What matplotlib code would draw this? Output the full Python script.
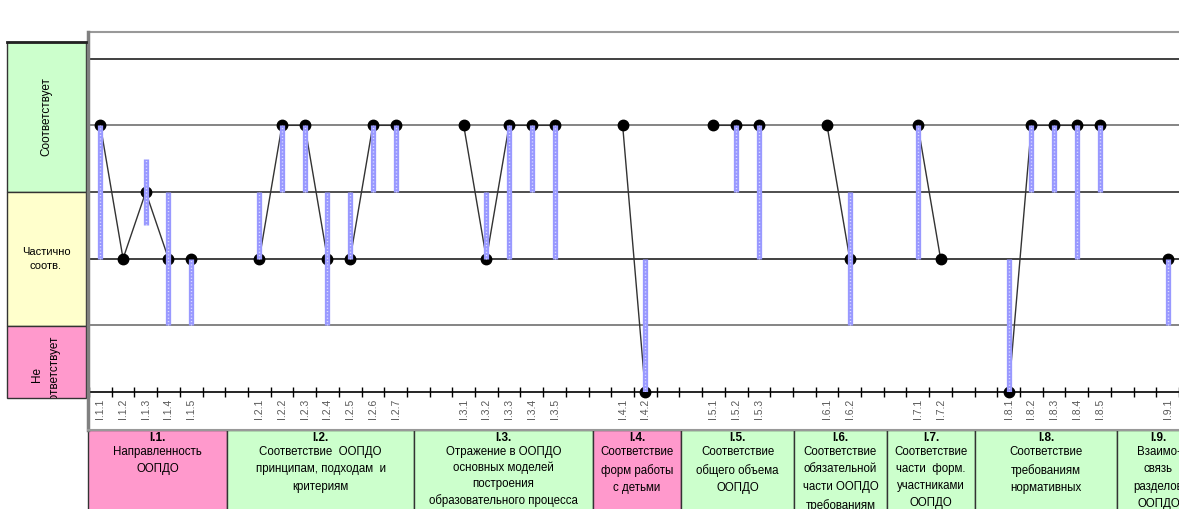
import matplotlib
matplotlib.use("Agg")
import matplotlib.pyplot as plt
from matplotlib.patches import Rectangle
from matplotlib.lines import Line2D
import numpy as np

plt.rcParams['font.family'] = ['Liberation Sans', 'DejaVu Sans']

# ---- data ----
groups = ['I.1', 'I.2', 'I.3', 'I.4', 'I.5', 'I.6', 'I.7', 'I.8', 'I.9']
group_text = [
    'Направленность\nООПДО',
    'Соответствие  ООПДО\nпринципам, подходам  и\nкритериям',
    'Отражение в ООПДО\nосновных моделей\nпостроения\nобразовательного процесса',
    'Соответствие\nформ работы\nс детьми',
    'Соответствие\nобщего объема\nООПДО',
    'Соответствие\nобязательной\nчасти ООПДО\nтребованиям',
    'Соответствие\nчасти  форм.\nучастниками\nООПДО',
    'Соответствие\nтребованиям\nнормативных',
    'Взаимо-\nсвязь\nразделов\nООПДО',
]
group_color = ['#ff99cc', '#ccffcc', '#ccffcc', '#ff99cc', '#ccffcc',
               '#ccffcc', '#ccffcc', '#ccffcc', '#ccffcc']

scores = [[4, 2, 3, 2, 2], [2, 4, 4, 2, 2, 4, 4], [4, 2, 4, 4, 4], [4, 0],
          [4, 4, 4], [4, 2], [4, 2], [0, 4, 4, 4, 4], [2]]
bar_top = [[4, None, 3.5, 3, 2], [3, 4, 4, 3, 3, 4, 4], [None, 3, 4, 4, 4],
           [None, 2], [None, 4, 4], [None, 3], [4, None], [2, 4, 4, 4, 4], [2]]
bar_bottom = [[2, None, 2.5, 1, 1], [2, 3, 3, 1, 2, 3, 3], [None, 2, 2, 3, 2],
              [None, 0], [None, 3, 2], [None, 1], [2, None], [0, 3, 3, 2, 3], [1]]

levels = ['Соответствует', 'Частично\nсоотв.', 'Не\nсоответствует']
level_color = ['#ccffcc', '#ffffcc', '#ff99cc']

# ---- build flat category axis (two empty slots between groups) ----
labels, y, top, bot = [], [], [], []
for gi, g in enumerate(groups):
    if gi > 0:
        labels += ['', '']
        y += [np.nan, np.nan]
        top += [np.nan, np.nan]
        bot += [np.nan, np.nan]
    for k, v in enumerate(scores[gi]):
        labels.append('%s.%d' % (g, k + 1))
        y.append(v)
        top.append(np.nan if bar_top[gi][k] is None else bar_top[gi][k])
        bot.append(np.nan if bar_bottom[gi][k] is None else bar_bottom[gi][k])
x = np.arange(len(labels))
y = np.array(y, dtype=float)
top = np.array(top, dtype=float)
bot = np.array(bot, dtype=float)

W, H = 1179, 509
fig = plt.figure(figsize=(W / 100, H / 100), dpi=100)
ax = fig.add_axes([89 / W, 117 / H, 1090 / W, 360 / H])
ax.set_xlim(-0.5, len(labels) - 0.5)
ax.set_ylim(0, 5.4)

# gridlines
for lv, c in [(1, '#707070'), (2, '#202020'), (3, '#303030'), (4, '#707070'), (5, '#202020')]:
    ax.axhline(lv, color=c, lw=1.2, zorder=1)

# connecting line + markers
ax.plot(x, y, color='#333333', lw=1, zorder=2)
ax.plot(x, y, 'o', color='black', ms=7.5, zorder=3, clip_on=False)

# blue dotted bars
ax.vlines(x, bot, top, color='#9999ff', lw=3.8, zorder=4)
ax.vlines(x, bot, top, color='white', lw=1, linestyles=(0, (0.8, 1.6)), alpha=0.7, zorder=5)

# axes styling
for s in ['right', 'left']:
    ax.spines[s].set_visible(False)
ax.spines['top'].set_color('#999999')
ax.spines['top'].set_linewidth(1.5)
ax.spines['bottom'].set_color('black')
ax.spines['bottom'].set_linewidth(1.2)
ax.set_yticks([])
ax.set_xticks(x)
ax.set_xticklabels(labels, rotation=90, fontsize=7.5, color='#595959')
ax.tick_params(axis='x', which='major', length=0, pad=5)
ax.set_xticks(np.arange(-0.5, len(labels) + 0.5, 1), minor=True)
ax.tick_params(axis='x', which='minor', direction='inout', length=7, width=1, color='black')

def fx(px):
    return px / W

def fy(py):
    return 1 - py / H

# y axis line
fig.add_artist(Line2D([fx(88), fx(88)], [fy(32), fy(430)], color='#808080', lw=2.5))

# left level boxes
box_y = [(42, 192), (192, 326), (326, 398)]
text_y = [117, 259, 374]
for (y0, y1), ty, name, c in zip(box_y, text_y, levels, level_color):
    r = Rectangle((fx(7), fy(y1)), fx(79), (y1 - y0) / H, transform=fig.transFigure,
                  facecolor=c, edgecolor='#333333', lw=1)
    fig.add_artist(r)
    cx, cy = fx(46), fy(ty)
    if name.startswith('Частично'):
        fig.text(cx, cy, name, ha='center', va='center', fontsize=8, linespacing=1.6)
    else:
        t = fig.text(cx, cy, name, ha='center', va='center', fontsize=8.5,
                     rotation=90, linespacing=1.6)
        t.set_clip_path(r)
fig.add_artist(Line2D([fx(7), fx(86)], [fy(42), fy(42)], color='#222222', lw=2))

# bottom group boxes
edges = [88, 227, 414, 593, 681, 794, 887, 975, 1117, 1200]
spacing = [1.6, 1.6, 1.4, 1.6, 1.6, 1.6, 1.55, 1.6, 1.6]
for i, g in enumerate(groups):
    x0, x1 = edges[i], edges[i + 1]
    r = Rectangle((fx(x0), fy(520)), fx(x1 - x0), 90 / H, transform=fig.transFigure,
                  facecolor=group_color[i], edgecolor='#333333', lw=1)
    fig.add_artist(r)
    cx = fx((x0 + x1) / 2)
    fig.text(cx, fy(438), g + '.', ha='center', va='center', fontsize=8.5, fontweight='bold')
    fig.text(cx, fy(446), group_text[i], ha='center', va='top', fontsize=8.3,
             linespacing=spacing[i])
fig.add_artist(Line2D([fx(88), fx(1179)], [fy(430), fy(430)], color='#999999', lw=1.5))

fig.savefig('out.png', dpi=100)
